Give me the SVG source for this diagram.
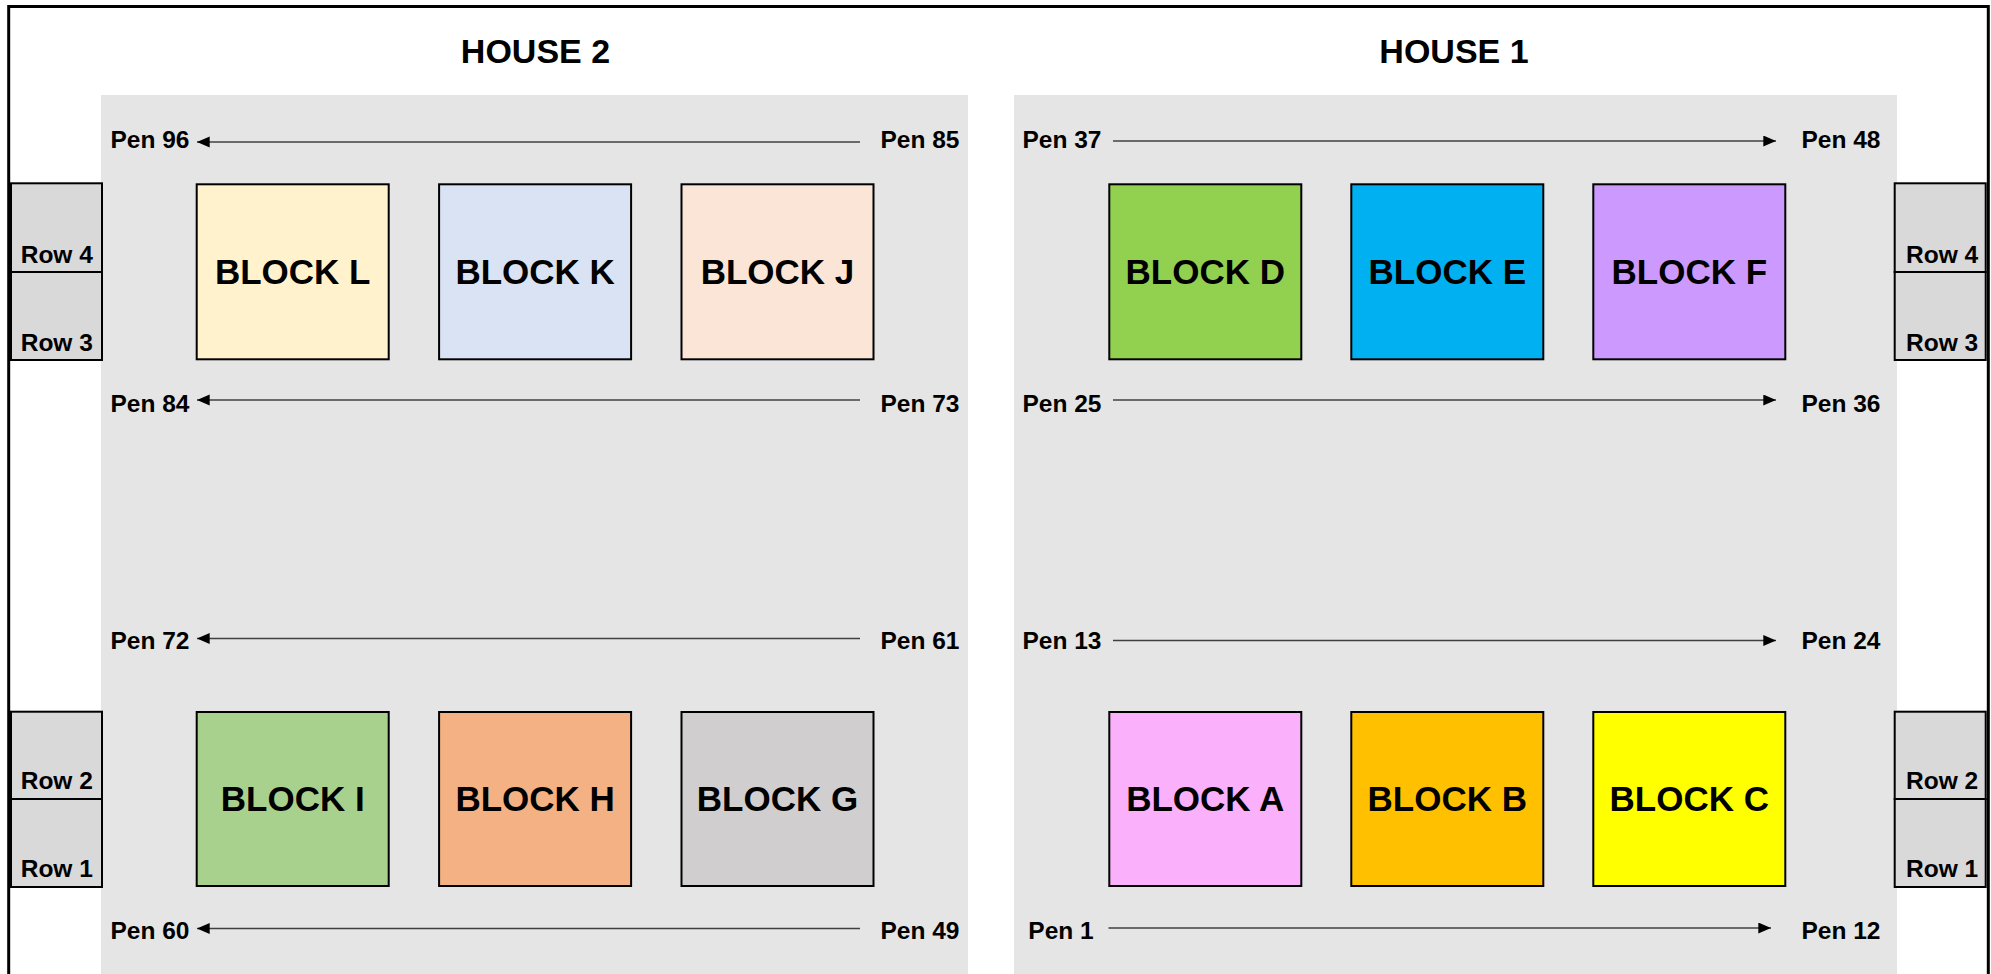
<svg xmlns="http://www.w3.org/2000/svg" width="1991" height="974" viewBox="0 0 1991 974">
<defs>
<style>
text{font-family:"Liberation Sans",Arial,sans-serif;font-weight:bold;fill:#000}
.title{font-size:34px;text-anchor:middle}
.pen{font-size:24.5px;text-anchor:middle}
.row{font-size:24.5px}
.blk{font-size:35px;text-anchor:middle}
.panel{fill:#e5e5e5}
.rowbox{fill:#d9d9d9;stroke:#000;stroke-width:2}
.block{stroke:#000;stroke-width:2}
.arrow{stroke:#404040;stroke-width:1.6;fill:none;marker-end:url(#ah)}
</style>
<marker id="ah" markerUnits="userSpaceOnUse" markerWidth="14" markerHeight="12" refX="12.7" refY="5.5" orient="auto">
<path d="M0,0 L12.7,5.5 L0,11 z" fill="#000"/>
</marker>
</defs>
<rect x="0" y="0" width="1991" height="974" fill="#fff"/>
<rect x="8.7" y="6.5" width="1979.6" height="1000" fill="none" stroke="#000" stroke-width="3"/>
<g id="house2-panel"><rect class="panel" x="101" y="95" width="867" height="890"/></g>
<g id="house1-panel"><rect class="panel" x="1014" y="95" width="883" height="890"/></g>
<g id="titles">
<text class="title" x="535.5" y="63.3">HOUSE 2</text>
<text class="title" x="1454" y="63.3">HOUSE 1</text>
</g>
<g id="rows-left">
<g id="row4-left"><rect class="rowbox" x="11" y="183.3" width="91" height="88.7"/><text class="row" x="20.7" y="263">Row 4</text></g>
<g id="row3-left"><rect class="rowbox" x="11" y="272" width="91" height="88"/><text class="row" x="20.7" y="350.7">Row 3</text></g>
<g id="row2-left"><rect class="rowbox" x="11" y="711.7" width="91" height="87.3"/><text class="row" x="20.7" y="789.3">Row 2</text></g>
<g id="row1-left"><rect class="rowbox" x="11" y="799" width="91" height="88"/><text class="row" x="20.7" y="877.3">Row 1</text></g>
</g>
<g id="rows-right">
<g id="row4-right"><rect class="rowbox" x="1894.7" y="183.3" width="91" height="88.7"/><text class="row" x="1906" y="263">Row 4</text></g>
<g id="row3-right"><rect class="rowbox" x="1894.7" y="272" width="91" height="88"/><text class="row" x="1906" y="350.7">Row 3</text></g>
<g id="row2-right"><rect class="rowbox" x="1894.7" y="711.7" width="91" height="87.3"/><text class="row" x="1906" y="789.3">Row 2</text></g>
<g id="row1-right"><rect class="rowbox" x="1894.7" y="799" width="91" height="88"/><text class="row" x="1906" y="877.3">Row 1</text></g>
</g>
<g id="block-L"><rect class="block" x="196.7" y="184.3" width="192" height="175" fill="#fff2cc"/><text class="blk" x="292.7" y="283.5">BLOCK L</text></g>
<g id="block-K"><rect class="block" x="439.1" y="184.3" width="192" height="175" fill="#dae3f3"/><text class="blk" x="535.1" y="283.5">BLOCK K</text></g>
<g id="block-J"><rect class="block" x="681.5" y="184.3" width="192" height="175" fill="#fbe5d6"/><text class="blk" x="777.5" y="283.5">BLOCK J</text></g>
<g id="block-D"><rect class="block" x="1109.3" y="184.3" width="192" height="175" fill="#92d050"/><text class="blk" x="1205.3" y="283.5">BLOCK D</text></g>
<g id="block-E"><rect class="block" x="1351.3" y="184.3" width="192" height="175" fill="#00b0f0"/><text class="blk" x="1447.3" y="283.5">BLOCK E</text></g>
<g id="block-F"><rect class="block" x="1593.3" y="184.3" width="192" height="175" fill="#cc99ff"/><text class="blk" x="1689.3" y="283.5">BLOCK F</text></g>
<g id="block-I"><rect class="block" x="196.7" y="712" width="192" height="174" fill="#a9d18e"/><text class="blk" x="292.7" y="810.5">BLOCK I</text></g>
<g id="block-H"><rect class="block" x="439.1" y="712" width="192" height="174" fill="#f4b183"/><text class="blk" x="535.1" y="810.5">BLOCK H</text></g>
<g id="block-G"><rect class="block" x="681.5" y="712" width="192" height="174" fill="#d0cece"/><text class="blk" x="777.5" y="810.5">BLOCK G</text></g>
<g id="block-A"><rect class="block" x="1109.3" y="712" width="192" height="174" fill="#fab0fa"/><text class="blk" x="1205.3" y="810.5">BLOCK A</text></g>
<g id="block-B"><rect class="block" x="1351.3" y="712" width="192" height="174" fill="#ffc000"/><text class="blk" x="1447.3" y="810.5">BLOCK B</text></g>
<g id="block-C"><rect class="block" x="1593.3" y="712" width="192" height="174" fill="#ffff00"/><text class="blk" x="1689.3" y="810.5">BLOCK C</text></g>
<g id="pen-labels">
<text class="pen" x="150" y="148.3">Pen 96</text>
<text class="pen" x="920" y="148.3">Pen 85</text>
<text class="pen" x="150" y="412.3">Pen 84</text>
<text class="pen" x="920" y="412.3">Pen 73</text>
<text class="pen" x="150" y="649.3">Pen 72</text>
<text class="pen" x="920" y="649.3">Pen 61</text>
<text class="pen" x="150" y="939">Pen 60</text>
<text class="pen" x="920" y="939">Pen 49</text>
<text class="pen" x="1062" y="148.3">Pen 37</text>
<text class="pen" x="1841" y="148.3">Pen 48</text>
<text class="pen" x="1062" y="412.3">Pen 25</text>
<text class="pen" x="1841" y="412.3">Pen 36</text>
<text class="pen" x="1062" y="649.3">Pen 13</text>
<text class="pen" x="1841" y="649.3">Pen 24</text>
<text class="pen" x="1061" y="939">Pen 1</text>
<text class="pen" x="1841" y="939">Pen 12</text>
</g>
<g id="connectors">
<line class="arrow" x1="860" y1="142" x2="197" y2="142"/>
<line class="arrow" x1="860" y1="400" x2="197" y2="400"/>
<line class="arrow" x1="860" y1="638.5" x2="197" y2="638.5"/>
<line class="arrow" x1="860" y1="928.5" x2="197" y2="928.5"/>
<line class="arrow" x1="1113" y1="141" x2="1776" y2="141"/>
<line class="arrow" x1="1113" y1="400" x2="1776" y2="400"/>
<line class="arrow" x1="1113" y1="640.5" x2="1776" y2="640.5"/>
<line class="arrow" x1="1108.5" y1="928" x2="1771" y2="928"/>
</g>
</svg>
